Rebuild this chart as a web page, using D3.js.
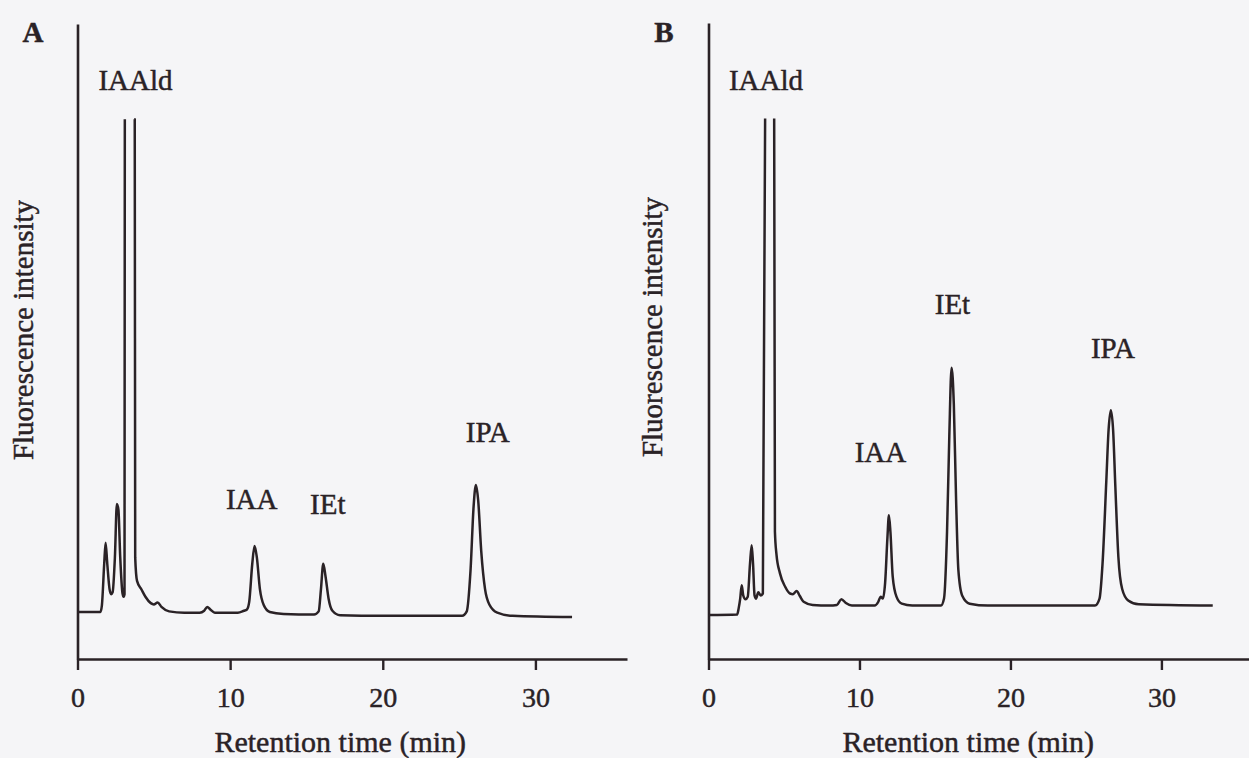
<!DOCTYPE html>
<html>
<head>
<meta charset="utf-8">
<script src="https://cdn.jsdelivr.net/npm/d3@7"></script>
<style>
  body { margin: 0; background: #f5f5f7; }
  text { font-family: "Liberation Serif", "Times New Roman", serif; fill: #2a2226; stroke: #2a2226; stroke-width: 0.45px; }
</style>
</head>
<body>
<div id="plot"></div>
<script>
// Chromatogram A: retention time (min) and fluorescence (arbitrary units), null = off scale gap
var timeA = [0, 1.5, 1.6, 1.75, 1.84, 1.95, 2.1, 2.2, 2.3, 2.45, 2.58, 2.68, 2.8, 2.95, 3.02, 3.08,
  3.1, 3.4, 3.72, 3.75, 3.78, 3.9, 4.2, 4.45, 4.8, 5.0, 5.25, 5.5, 6.0, 7.0, 8.0, 8.3, 8.5, 8.7, 9.0,
  10.5, 10.9, 11.1, 11.25, 11.45, 11.6, 11.75, 11.95, 12.2, 12.6, 13.5, 15.5, 15.8, 15.95, 16.1, 16.25,
  16.45, 16.7, 17.2, 20, 25.2, 25.5, 25.75, 25.95, 26.1, 26.25, 26.45, 26.7, 27.0, 27.5, 28.5, 32.4];
var signalA = [7.4, 7.4, 8.5, 15, 18.3, 15, 11, 10.2, 10.5, 16, 24.4, 23.5, 16, 10.3, 9.8, 10.2,
  85, null, 85, 85, 16, 12.3, 10.9, 9.8, 8.8, 8.6, 8.9, 8.2, 7.5, 7.3, 7.3, 7.6, 8.2, 7.8, 7.3,
  7.3, 7.6, 7.8, 9, 15, 17.8, 16, 11, 8.5, 7.4, 7.1, 7.0, 7.5, 11, 15.0, 13,
  9.5, 7.6, 6.9, 6.8, 6.8, 7.5, 14, 24, 27.4, 25, 17, 11, 8.5, 7.3, 6.8, 6.6];

// Chromatogram B
var timeB = [0, 1.9, 2.0, 2.1, 2.2, 2.3, 2.45, 2.6, 2.75, 2.86, 2.95, 3.05, 3.15, 3.3, 3.45, 3.6,
  3.75, 4.0, 4.35, 4.4, 4.5, 4.73, 5.07, 5.4, 5.6, 5.84, 6.05, 6.3, 6.9, 8.0, 8.5, 8.8, 9.1, 9.5,
  11.0, 11.25, 11.4, 11.55, 11.7, 11.85, 11.95, 12.05, 12.2, 12.45, 12.8, 13.5, 15.4, 15.6, 15.8,
  15.95, 16.1, 16.25, 16.4, 16.55, 16.8, 17.3, 18.5, 25.6, 25.9, 26.1, 26.35, 26.5, 26.65, 26.8,
  26.95, 27.15, 27.4, 27.8, 28.5, 33.4];
var signalB = [6.9, 7.0, 8, 9.5, 11.6, 10, 9.4, 9.8, 15, 17.9, 15, 10, 9.5, 10.5, 10.0, 10.3,
  85, null, 85, 20, 16.5, 13.5, 11.4, 10.3, 10.2, 10.7, 9.9, 9.0, 8.5, 8.4, 8.5, 9.4, 8.8, 8.4,
  8.4, 9.0, 9.8, 9.5, 12, 19, 22.6, 20, 13, 9.8, 8.7, 8.4, 8.4, 9.5, 20,
  35, 45.8, 40, 25, 14, 10, 8.7, 8.4, 8.4, 9.5, 15, 28, 36, 39.1, 36,
  27, 16, 11, 9.2, 8.6, 8.4];

// Peak names with anchor (time, level) for each label
var peakNames = ["IAAld", "IAA", "IEt", "IPA"];
var labelTimeA = [3.8, 11.41, 16.4, 26.88];
var labelLevelA = [89.6, 23.6, 22.8, 34.2];
var labelTimeB = [3.81, 11.39, 16.16, 26.79];
var labelLevelB = [89.4, 31.0, 54.3, 47.4];

var tickValues = [0, 10, 20, 30];
var panelLetters = ["A", "B"];

var svgWidth = 1249;
var svgHeight = 758;
var ink = "#2a2226";

var svg = d3.select("#plot")
  .append("svg")
  .attr("width", svgWidth)
  .attr("height", svgHeight);

// one panel = axes + trace + labels
function drawPanel(opts) {
  var x = d3.scaleLinear().domain([0, 36]).range([opts.left, opts.right]);
  var y = d3.scaleLinear().domain([0, 100]).range([659, opts.top]);

  var g = svg.append("g");

  // x axis
  var xAxis = g.append("g")
    .attr("transform", `translate(0, ${y(0)})`)
    .call(d3.axisBottom(x).tickValues(tickValues).tickSize(11).tickSizeOuter(0).tickPadding(17));
  xAxis.select(".domain").attr("stroke", ink).attr("stroke-width", 2.6);
  xAxis.selectAll(".tick line").attr("stroke", ink).attr("stroke-width", 2.4);
  xAxis.selectAll(".tick text")
    .attr("fill", ink)
    .style("font-size", "28px")
    .style("font-family", "Liberation Serif, serif");

  // y axis (no ticks)
  var yAxis = g.append("g")
    .attr("transform", `translate(${x(0)}, 0)`)
    .call(d3.axisLeft(y).tickValues([]).tickSizeOuter(0));
  yAxis.select(".domain").attr("stroke", ink).attr("stroke-width", 2.6);

  // trace
  var pts = opts.times.map((t, i) => ({t: t, v: opts.signal[i]}));
  var line = d3.line()
    .defined(d => d.v !== null)
    .x(d => x(d.t))
    .y(d => y(d.v))
    .curve(d3.curveMonotoneX);

  g.append("path")
    .datum(pts)
    .attr("d", line)
    .attr("fill", "none")
    .attr("stroke", ink)
    .attr("stroke-width", 2.5)
    .attr("stroke-linejoin", "round");

  // peak labels
  g.selectAll(".peak")
    .data(peakNames)
    .enter()
    .append("text")
    .attr("class", "peak")
    .attr("x", (d, i) => x(opts.labelTime[i]))
    .attr("y", (d, i) => y(opts.labelLevel[i]))
    .attr("text-anchor", "middle")
    .style("font-size", "29px")
    .text(d => d);

  // panel letter
  g.append("text")
    .attr("x", opts.letterX)
    .attr("y", 42)
    .attr("text-anchor", "middle")
    .style("font-size", "29px")
    .style("font-weight", "bold")
    .text(opts.letter);

  // axis titles
  g.append("text")
    .attr("x", (x(0) + x(36)) / 2 - 12)
    .attr("y", 752)
    .attr("text-anchor", "middle")
    .style("font-size", "30px")
    .text("Retention time (min)");

  g.append("text")
    .attr("transform", `translate(${opts.yTitleX}, ${opts.yTitleY}) rotate(-90)`)
    .attr("text-anchor", "middle")
    .style("font-size", "29px")
    .text("Fluorescence intensity");
}

drawPanel({
  left: 77.5, right: 627, top: 24,
  times: timeA, signal: signalA,
  labelTime: labelTimeA, labelLevel: labelLevelA,
  letter: panelLetters[0], letterX: 33,
  yTitleX: 33, yTitleY: 330
});

drawPanel({
  left: 708.5, right: 1252, top: 23,
  times: timeB, signal: signalB,
  labelTime: labelTimeB, labelLevel: labelLevelB,
  letter: panelLetters[1], letterX: 664,
  yTitleX: 662, yTitleY: 327
});
</script>
</body>
</html>
